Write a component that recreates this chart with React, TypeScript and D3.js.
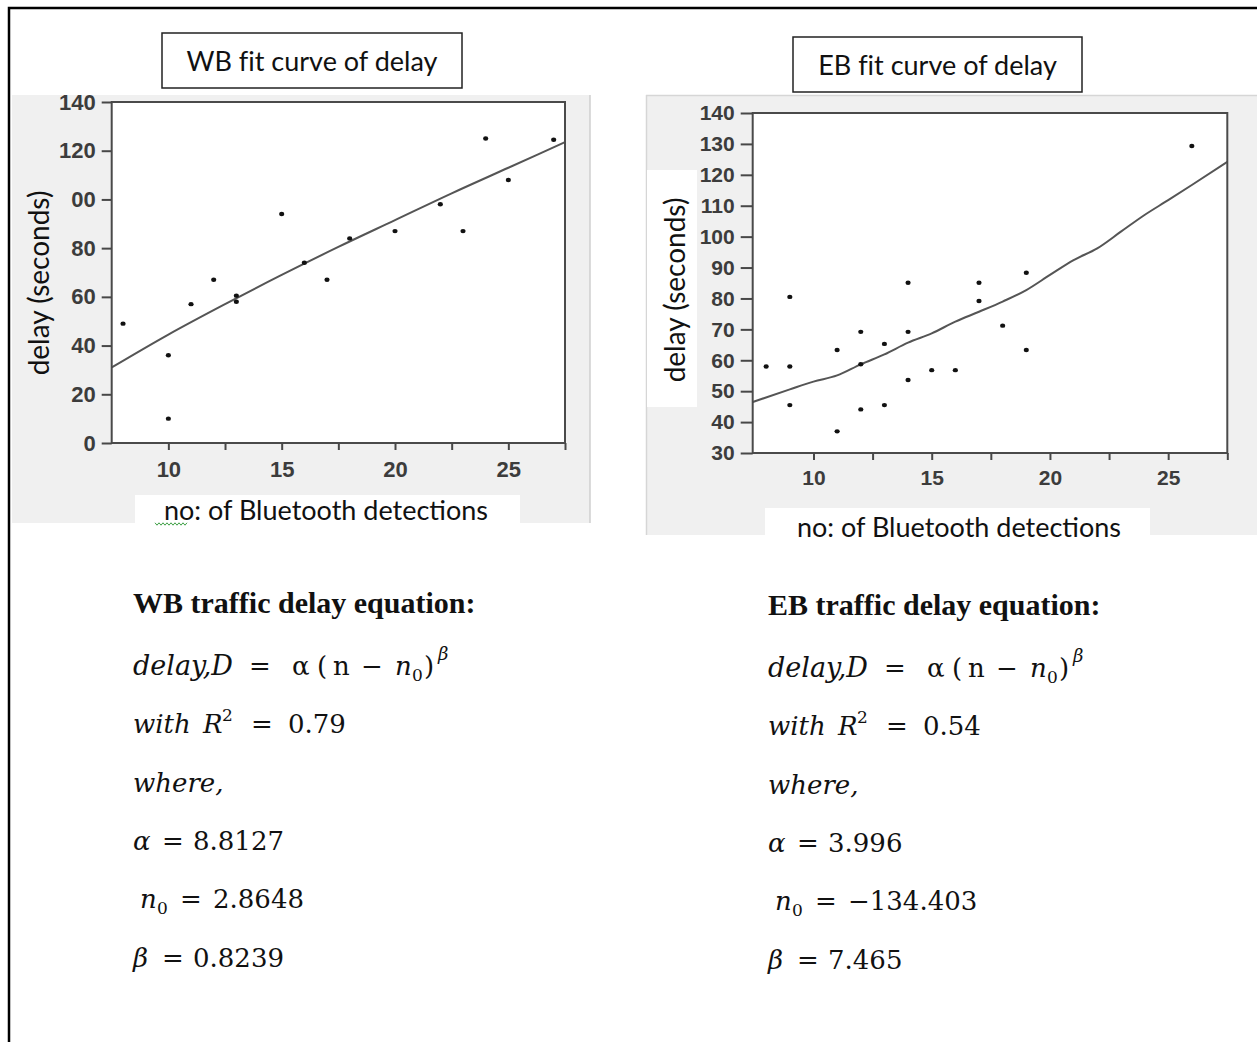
import * as d3 from "d3";
import { useEffect, useRef } from "react";

// WB: no. of Bluetooth detections vs delay (s)
const wbDetections = [8, 10, 10, 11, 12, 13, 13, 15, 16, 17, 18, 20, 22, 23, 24, 25, 27];
const wbDelay = [49, 36, 10, 57, 67, 60.5, 58, 94, 74, 67, 84, 87, 98, 87, 125, 108, 124.5];
// WB fitted curve (points along the drawn line)
const wbFitX = [7.5, 10, 12.5, 15, 17.5, 20, 22.5, 25, 27.5];
const wbFitY = [31, 44.5, 57, 69, 80.5, 91.5, 102.5, 113, 123.5];

// EB points
const ebDetections = [8, 9, 9, 9, 11, 11, 12, 12, 12, 13, 13, 14, 14, 14, 15, 16, 17, 17, 18, 19, 19, 26];
const ebDelay = [58, 80.5, 58, 45.5, 63.3, 37, 69.2, 58.7, 44.1, 65.3, 45.5, 85.1, 69.2, 53.6, 56.8, 56.8, 85.1, 79.2, 71.2, 88.3, 63.3, 129.3];
// EB fitted curve
const ebFitX = [7.43, 9, 10, 11, 12, 13, 14, 15, 16, 17, 18, 19, 20, 21, 22, 23, 24, 25, 26, 27.5];
const ebFitY = [46.5, 50.6, 53.1, 55.1, 58.7, 61.9, 65.7, 68.7, 72.5, 75.7, 79, 82.7, 87.6, 92.4, 96.2, 101.6, 107, 111.8, 116.7, 124.2];

const xMajorTicks = [10, 15, 20, 25];
const xMinorTicks = [12.5, 17.5, 22.5, 27.5];
const wbYTicks = [0, 20, 40, 60, 80, 100, 120, 140];
const ebYTicks = [30, 40, 50, 60, 70, 80, 90, 100, 110, 120, 130, 140];

const chartTitles = ["WB fit curve of delay", "EB fit curve of delay"];
const yTitle = "delay (seconds)";
const xTitle = "no: of Bluetooth detections";

const eqHeadings = ["WB traffic delay equation:", "EB traffic delay equation:"];
const rSquared = ["0.79", "0.54"];
const alphaValues = ["8.8127", "3.996"];
const n0Values = ["2.8648", "\u2212134.403"];
const betaValues = ["0.8239", "7.465"];

const PANEL_GREY = "#f0f0f0";
const SANS = "Lato, 'Open Sans', sans-serif";
const TICK_FONT = "'Liberation Sans', Arial, sans-serif";
const MATH = "'DejaVu Serif', serif";

type PanelProps = {
  xs: number[];
  ys: number[];
  fitX: number[];
  fitY: number[];
  xDomain: [number, number];
  yDomain: [number, number];
  xRange: [number, number];
  yRange: [number, number];
  yTicks: number[];
  yTickSize: number;
  xPad: number;
  labelSize: number;
};

function ScatterPanel(p: PanelProps) {
  const yRef = useRef<SVGGElement>(null);
  const xRef = useRef<SVGGElement>(null);
  const xMinorRef = useRef<SVGGElement>(null);

  const x = d3.scaleLinear().domain(p.xDomain).range(p.xRange);
  const y = d3.scaleLinear().domain(p.yDomain).range(p.yRange);

  useEffect(() => {
    const style = (g: any) => {
      g.attr("font-size", null).attr("font-family", null);
      g.select(".domain").remove();
      g.selectAll(".tick line").attr("stroke", "#474747").attr("stroke-width", 2);
      g.selectAll(".tick text")
        .attr("fill", "#3c3c3c")
        .attr("font-weight", "bold")
        .attr("font-size", p.labelSize)
        .attr("font-family", TICK_FONT);
    };

    const gy = d3.select(yRef.current);
    gy.selectAll("*").remove();
    gy.call(
      d3.axisLeft(y).tickValues(p.yTicks).tickSize(p.yTickSize).tickSizeOuter(0).tickPadding(6).tickFormat(d3.format("d")) as any
    );
    style(gy);

    const gx = d3.select(xRef.current);
    gx.selectAll("*").remove();
    gx.call(
      d3.axisBottom(x).tickValues(xMajorTicks).tickSize(7).tickSizeOuter(0).tickPadding(p.xPad).tickFormat(d3.format("d")) as any
    );
    style(gx);

    const gm = d3.select(xMinorRef.current);
    gm.selectAll("*").remove();
    gm.call(d3.axisBottom(x).tickValues(xMinorTicks).tickSize(7).tickSizeOuter(0).tickFormat(() => "") as any);
    style(gm);
  });

  const line = d3
    .line<number>()
    .x((d) => x(d))
    .y((_, i) => y(p.fitY[i]))
    .curve(d3.curveMonotoneX);

  const [x0, x1] = p.xRange;
  const [yb, yt] = p.yRange;

  return (
    <g>
      <rect x={x0} y={yt} width={x1 - x0} height={yb - yt} fill="#fff" />
      <path d={line(p.fitX) || ""} fill="none" stroke="#555" strokeWidth={2} />
      {p.xs.map((d, i) => (
        <ellipse key={i} cx={x(d)} cy={y(p.ys[i])} rx={2.6} ry={2.2} fill="#111" />
      ))}
      <rect x={x0} y={yt} width={x1 - x0} height={yb - yt} fill="none" stroke="#4a4a4a" strokeWidth={2} />
      <g ref={yRef} transform={`translate(${x0},0)`} />
      <g ref={xRef} transform={`translate(0,${yb})`} />
      <g ref={xMinorRef} transform={`translate(0,${yb})`} />
    </g>
  );
}

type EqProps = {
  x0: number;
  dy: number;
  heading: string;
  r2: string;
  alpha: string;
  n0: string;
  beta: string;
};

function EquationBlock({ x0, dy, heading, r2, alpha, n0, beta }: EqProps) {
  const b = [613, 675, 733, 792, 850, 908, 967].map((v) => v + dy);
  const fs = 26;
  const t = (dx: number, yy: number, s: string, italic = false, size = fs) => (
    <text x={x0 + dx} y={yy} fontFamily={MATH} fontSize={size} fontStyle={italic ? "italic" : "normal"} fill="#111">
      {s}
    </text>
  );
  return (
    <g>
      <text x={x0} y={b[0]} fontFamily="'Liberation Serif', 'Times New Roman', serif" fontWeight="bold" fontSize={30} fill="#111">
        {heading}
      </text>
      {t(0, b[1], "delay,D", true, 27)}
      {t(116, b[1], "=")}
      {t(159, b[1], "\u03b1")}
      {t(184, b[1], "(")}
      {t(200, b[1], "n")}
      {t(228, b[1], "\u2212")}
      {t(262, b[1], "n", true)}
      {t(279, b[1] + 6, "0", false, 17)}
      {t(291, b[1], ")")}
      {t(305, b[1] - 15, "\u03b2", true, 18)}

      {t(0, b[2], "with", true)}
      {t(70, b[2], "R", true)}
      {t(89, b[2] - 12, "2", false, 17)}
      {t(118, b[2], "=")}
      {t(155, b[2], r2)}

      {t(0, b[3], "where,", true)}

      {t(0, b[4], "\u03b1", true)}
      {t(29, b[4], "=")}
      {t(60, b[4], alpha)}

      {t(7, b[5], "n", true)}
      {t(24, b[5] + 6, "0", false, 17)}
      {t(47, b[5], "=")}
      {t(80, b[5], n0)}

      {t(0, b[6], "\u03b2", true)}
      {t(29, b[6], "=")}
      {t(60, b[6], beta)}
    </g>
  );
}

function squiggle(xStart: number, xEnd: number, yy: number) {
  const pts: [number, number][] = [];
  for (let xx = xStart, k = 0; xx <= xEnd; xx += 2, k++) pts.push([xx, yy + (k % 2 === 0 ? -1.2 : 1.2)]);
  return d3.line()(pts) || "";
}

const noLig = { fontVariantLigatures: "none" } as const;

export default function App() {
  return (
    <svg width={1257} height={1042} style={{ position: "absolute", left: 0, top: 0, background: "#fff" }}>
      <rect width={1257} height={1042} fill="#fff" />

      {/* WB chart */}
      <rect x={12} y={95} width={578} height={428} fill={PANEL_GREY} />
      <line x1={590} y1={95} x2={590} y2={523} stroke="#cfcfcf" strokeWidth={1.5} />
      <rect x={135} y={495} width={385} height={28} fill="#fff" />
      <ScatterPanel
        xs={wbDetections}
        ys={wbDelay}
        fitX={wbFitX}
        fitY={wbFitY}
        xDomain={[7.5, 27.5]}
        yDomain={[0, 140]}
        xRange={[111.7, 565]}
        yRange={[443, 102]}
        yTicks={wbYTicks}
        yTickSize={10}
        xPad={11}
        labelSize={22}
      />
      <rect x={22} y={180} width={49} height={206} fill={PANEL_GREY} />
      <text transform="translate(49,283) rotate(-90)" textAnchor="middle" fontFamily={SANS} fontSize={28} fill="#111">
        {yTitle}
      </text>
      <text x={326} y={520} textAnchor="middle" fontFamily={SANS} fontSize={27} fill="#111">
        {xTitle}
      </text>
      <path d={squiggle(155, 188, 524)} fill="none" stroke="#3fa046" strokeWidth={1} />
      <rect x={162} y={33} width={300} height={55} fill="#fff" stroke="#222" strokeWidth={1.5} />
      <text x={312} y={71} textAnchor="middle" fontFamily={SANS} fontSize={27} fill="#111" style={noLig}>
        {chartTitles[0]}
      </text>

      {/* EB chart */}
      <rect x={646} y={95} width={611} height={440} fill={PANEL_GREY} />
      <line x1={646} y1={95.5} x2={1257} y2={95.5} stroke="#d6d6d6" strokeWidth={1.5} />
      <line x1={646.5} y1={95} x2={646.5} y2={535} stroke="#d6d6d6" strokeWidth={1.5} />
      <rect x={647} y={170} width={50} height={237} fill="#fff" />
      <rect x={765} y={508} width={385} height={27} fill="#fff" />
      <ScatterPanel
        xs={ebDetections}
        ys={ebDelay}
        fitX={ebFitX}
        fitY={ebFitY}
        xDomain={[7.43, 27.5]}
        yDomain={[30, 140]}
        xRange={[752.7, 1227.3]}
        yRange={[453, 113]}
        yTicks={ebYTicks}
        yTickSize={12}
        xPad={10}
        labelSize={21}
      />
      <text transform="translate(685,290) rotate(-90)" textAnchor="middle" fontFamily={SANS} fontSize={28} fill="#111">
        {yTitle}
      </text>
      <text x={959} y={537} textAnchor="middle" fontFamily={SANS} fontSize={27} fill="#111">
        {xTitle}
      </text>
      <rect x={793} y={37} width={289} height={55} fill="#fff" stroke="#222" strokeWidth={1.5} />
      <text x={937.5} y={75} textAnchor="middle" fontFamily={SANS} fontSize={27} fill="#111" style={noLig}>
        {chartTitles[1]}
      </text>

      {/* equations */}
      <EquationBlock
        x0={133}
        dy={0}
        heading={eqHeadings[0]}
        r2={rSquared[0]}
        alpha={alphaValues[0]}
        n0={n0Values[0]}
        beta={betaValues[0]}
      />
      <EquationBlock
        x0={768}
        dy={1.5}
        heading={eqHeadings[1]}
        r2={rSquared[1]}
        alpha={alphaValues[1]}
        n0={n0Values[1]}
        beta={betaValues[1]}
      />

      {/* outer frame */}
      <path d="M9,1042 V8 H1257" fill="none" stroke="#000" strokeWidth={2.5} />
    </svg>
  );
}
